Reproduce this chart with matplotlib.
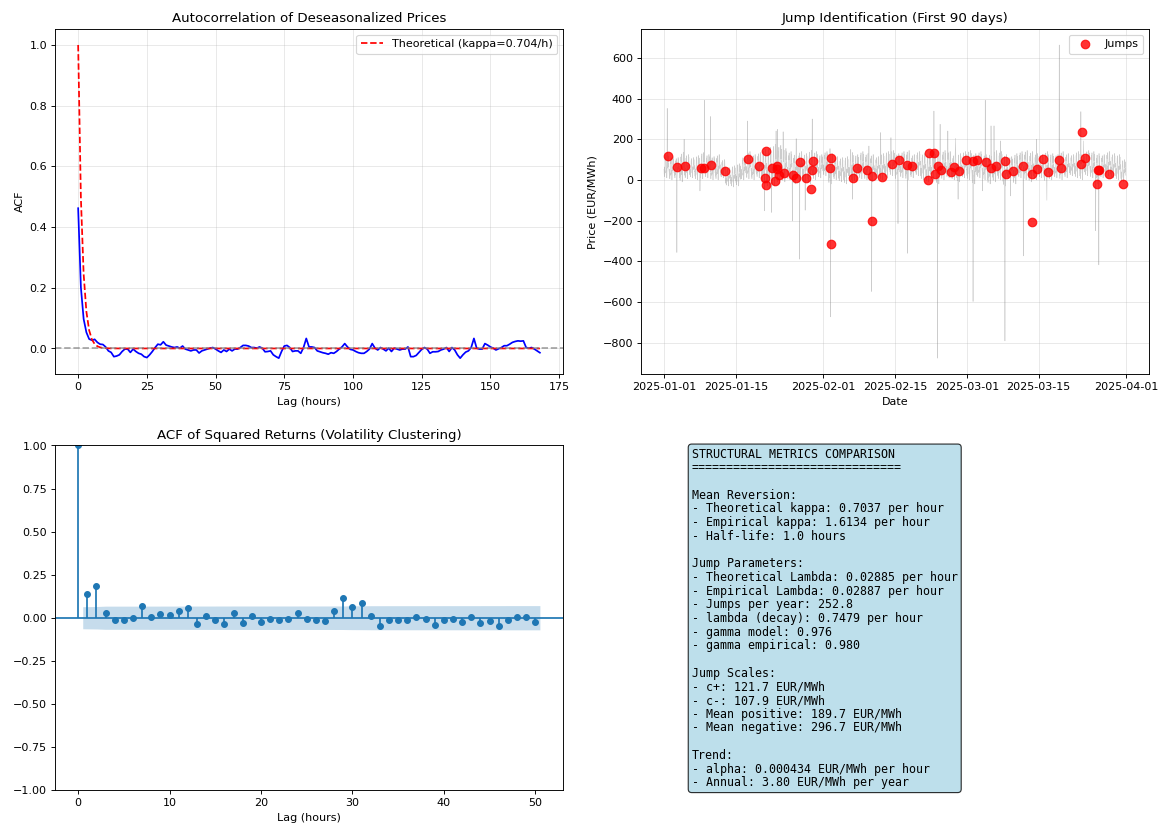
import numpy as np
import pandas as pd
import matplotlib
matplotlib.use("Agg")
import matplotlib.pyplot as plt

plt.rcParams["font.size"] = 9.7

# ---------------- Panel 1: ACF of deseasonalized prices ----------------
kappa_theoretical = 0.7037
acf_lags = np.arange(169)
acf_empirical = [
    0.462, 0.201, 0.097, 0.053, 0.031, 0.027, 0.030, 0.020, 0.014, 0.013,
    0.005, -0.008, -0.013, -0.027, -0.025, -0.021, -0.010, -0.002, -0.002, -0.013,
    -0.002, -0.010, -0.016, -0.019, -0.027, -0.030, -0.021, -0.010, 0.003, 0.014,
    0.012, 0.022, 0.011, 0.008, 0.005, 0.003, 0.005, 0.001, 0.008, -0.002,
    -0.005, -0.008, -0.005, -0.005, -0.015, -0.008, -0.005, -0.002, 0.001, 0.003,
    -0.002, -0.008, -0.013, -0.005, -0.010, -0.002, -0.008, -0.002, -0.002, 0.003,
    0.010, 0.010, 0.008, 0.003, 0.003, 0.001, 0.005, 0.001, -0.011, -0.010,
    -0.008, -0.021, -0.027, -0.032, -0.010, 0.008, 0.010, 0.003, -0.010, -0.008,
    -0.008, -0.016, 0.003, 0.033, 0.005, 0.005, 0.003, -0.008, -0.011, -0.014,
    -0.016, -0.019, -0.014, -0.016, -0.010, -0.002, 0.005, 0.016, 0.005, -0.003,
    -0.005, -0.010, -0.014, -0.016, -0.016, -0.010, -0.002, 0.016, 0.001, -0.005,
    0.003, -0.002, -0.008, 0.001, -0.010, 0.001, -0.002, -0.005, -0.002, -0.002,
    0.005, -0.027, -0.027, -0.023, -0.013, -0.003, 0.003, -0.002, -0.016, -0.011,
    -0.011, -0.010, -0.005, -0.002, 0.003, -0.010, 0.003, -0.005, -0.021, -0.032,
    -0.021, -0.012, -0.008, 0.003, 0.033, 0.001, -0.002, -0.002, 0.016, 0.011,
    0.005, 0.001, -0.005, -0.001, 0.003, 0.009, 0.009, 0.014, 0.020, 0.023,
    0.025, 0.024, 0.025, 0.003, 0.001, 0.003, -0.002, -0.008, -0.014,
]

# ---------------- Panel 2: hourly prices and detected jumps ----------------
start_date = "2025-01-01"
n_days = 90
# daily band of the hourly price (EUR/MWh)
daily_low = [
    10, 0, 5, -10, 5, 10, 0, 5, 10, 0,
    0, 10, -30, -35, -30, 0, 5, 0, 10, -20,
    -40, -30, -20, -10, 0, -20, 0, -10, -20, 0,
    10, 20, -20, 0, -10, -20, 0, -10, 5, 0,
    -10, 10, 0, 10, 20, 0, 10, 0, 10, 20,
    0, -10, 0, -20, 0, 10, 0, -10, 10, 0,
    -20, 10, 0, -20, -10, 0, -30, 0, -20, 10,
    0, -10, 0, 10, -10, 0, 10, 0, 10, 20,
    10, 0, 20, 10, -20, 10, 20, 10, 0, -10,
]
daily_high = [
    130, 115, 110, 135, 125, 110, 120, 135, 125, 115,
    125, 100, 60, 70, 80, 115, 140, 125, 135, 150,
    160, 175, 170, 155, 140, 130, 140, 130, 145, 140,
    125, 140, 130, 115, 110, 115, 135, 125, 140, 130,
    125, 115, 130, 140, 145, 130, 140, 145, 125, 140,
    130, 125, 140, 130, 145, 140, 125, 130, 140, 145,
    130, 140, 125, 130, 145, 140, 125, 115, 130, 140,
    145, 140, 130, 125, 140, 130, 125, 140, 130, 125,
    140, 130, 145, 140, 130, 125, 140, 130, 125, 100,
]
# typical intraday profile (0 = daily low, 1 = daily high)
hourly_profile = [0.35, 0.15, 0.45, 0.05, 0.30, 0.20, 0.60, 0.85, 0.70, 0.95,
                  0.50, 0.25, 0.40, 0.00, 0.30, 0.55, 0.40, 0.80, 1.00, 0.65,
                  0.90, 0.45, 0.60, 0.30]
# isolated price spikes: (hour index, price)
spike_hours = [15, 60, 94, 168, 189, 217, 390, 470, 503, 524, 530, 557, 600,
               618, 634, 660, 693, 776, 779, 873, 881, 958, 971, 1013, 1061,
               1094, 1138, 1262, 1279, 1291, 1327, 1363, 1375, 1445, 1489,
               1502, 1529, 1543, 1574, 1594, 1620, 1680, 1742, 1790, 1848,
               1949, 1961, 2018, 2033]
spike_values = [352, -357, 200, -54, 392, 312, 290, -152, -160, 241, 249, 237,
                -202, 203, -390, -149, 300, 154, -674, 150, -95, 167, -549,
                233, 208, -215, -361, 339, -877, 274, 241, 205, -95, -598, -54,
                392, 266, 266, 192, -792, -79, -374, 200, -100, 664, 336, 192,
                -250, -418]
# detected jumps: (hour index, price)
jump_hours = [17, 60, 96, 172, 189, 219, 284, 393, 445, 477, 470, 475, 505,
              518, 530, 527, 539, 559, 602, 619, 634, 664, 688, 693, 698, 778,
              783, 780, 883, 904, 947, 972, 973, 1019, 1066, 1101, 1136, 1159,
              1238, 1261, 1236, 1265, 1282, 1295, 1342, 1358, 1380, 1412, 1444,
              1462, 1507, 1531, 1551, 1596, 1601, 1630, 1680, 1720, 1722, 1745,
              1774, 1795, 1849, 1854, 1953, 1952, 1968, 2024, 2029, 2036, 2081,
              2148]
jump_values = [119, 64, 70, 57, 57, 74, 46, 103, 70, 141, 11, -25, 57, -7, 67,
               54, 25, 34, 25, 7, 87, 11, -46, 51, 93, 57, 108, -317, 11, 61,
               47, 21, -200, 16, 80, 98, 74, 70, 134, 132, 2, 28, 70, 51, 41,
               64, 44, 96, 93, 96, 87, 57, 67, 93, 28, 44, 70, 31, -209, 54,
               101, 41, 100, 57, 237, 77, 106, -18, 47, 51, 29, -21]

# ---------------- Panel 3: ACF of squared returns ----------------
sq_lags = np.arange(51)
sq_acf = [1.0, 0.140, 0.183, 0.025, -0.016, -0.012, -0.004, 0.066, 0.002, 0.019,
          0.017, 0.037, 0.054, -0.035, 0.010, -0.016, -0.037, 0.029, -0.031, 0.010,
          -0.025, -0.008, -0.014, -0.006, 0.029, -0.008, -0.014, -0.019, 0.037, 0.113,
          0.062, 0.083, 0.012, -0.047, -0.012, -0.014, -0.016, 0.004, -0.010, -0.043,
          -0.012, -0.006, -0.027, 0.004, -0.031, -0.021, -0.049, -0.012, 0.004, 0.006,
          -0.025]
n_obs = 940

# ---------------- Panel 4: metrics summary ----------------
summary_lines = [
    "STRUCTURAL METRICS COMPARISON",
    "==============================",
    "",
    "Mean Reversion:",
    "- Theoretical kappa: 0.7037 per hour",
    "- Empirical kappa: 1.6134 per hour",
    "- Half-life: 1.0 hours",
    "",
    "Jump Parameters:",
    "- Theoretical Lambda: 0.02885 per hour",
    "- Empirical Lambda: 0.02887 per hour",
    "- Jumps per year: 252.8",
    "- lambda (decay): 0.7479 per hour",
    "- gamma model: 0.976",
    "- gamma empirical: 0.980",
    "",
    "Jump Scales:",
    "- c+: 121.7 EUR/MWh",
    "- c-: 107.9 EUR/MWh",
    "- Mean positive: 189.7 EUR/MWh",
    "- Mean negative: 296.7 EUR/MWh",
    "",
    "Trend:",
    "- alpha: 0.000434 EUR/MWh per hour",
    "- Annual: 3.80 EUR/MWh per year",
]

# ---------------- build hourly price series ----------------
low = np.repeat(np.array(daily_low, float), 24)
high = np.repeat(np.array(daily_high, float), 24)
prof = np.tile(np.array(hourly_profile, float), n_days)
prices = low + prof * (high - low)
prices[np.array(spike_hours)] = spike_values
times = pd.date_range(start_date, periods=n_days * 24, freq="h")
jump_times = times[np.array(jump_hours)]

fig, axes = plt.subplots(2, 2, figsize=(14, 9.935), dpi=83.15)
fig.subplots_adjust(left=0.0473, right=0.9869, top=0.9644, bottom=0.0436,
                    wspace=0.1535, hspace=0.208)
ax1, ax2, ax3, ax4 = axes.ravel()

# Panel 1
ax1.plot(acf_lags, acf_empirical, color="blue", linewidth=1.5)
ax1.plot(acf_lags, np.exp(-kappa_theoretical * acf_lags), "r--", linewidth=1.5,
         label=f"Theoretical (kappa={kappa_theoretical:.3f}/h)")
ax1.axhline(0, color="gray", linestyle="--", alpha=0.7)
ax1.set_title("Autocorrelation of Deseasonalized Prices")
ax1.set_xlabel("Lag (hours)")
ax1.set_ylabel("ACF")
ax1.legend(loc="upper right")
ax1.grid(True, alpha=0.3)

# Panel 2
ax2.plot(times, prices, color="gray", linewidth=0.5, alpha=0.4)
ax2.scatter(jump_times, jump_values, color="red", s=55, alpha=0.8, label="Jumps",
            zorder=3)
ax2.set_title("Jump Identification (First 90 days)")
ax2.set_xlabel("Date")
ax2.set_ylabel("Price (EUR/MWh)")
ax2.legend(loc="upper right")
ax2.grid(True, alpha=0.3)

# Panel 3 (stem-style ACF with Bartlett confidence band)
sq = np.array(sq_acf)
ax3.vlines(sq_lags, 0, sq, colors="C0")
ax3.axhline(0, color="C0")
ax3.plot(sq_lags, sq, "o", color="C0", markersize=5)
varacf = np.ones(len(sq)) / n_obs
varacf[2:] *= 1 + 2 * np.cumsum(sq[1:-1] ** 2)
half = 1.96 * np.sqrt(varacf[1:])
band_x = sq_lags[1:].astype(float)
band_x[0] -= 0.5
band_x[-1] += 0.5
ax3.fill_between(band_x, -half, half, alpha=0.25, color="C0", linewidth=0)
ax3.set_ylim(-1, 1)
ax3.set_title("ACF of Squared Returns (Volatility Clustering)")
ax3.set_xlabel("Lag (hours)")

# Panel 4
ax4.axis("off")
ax4.text(0.1, 0.994, "\n".join(summary_lines), transform=ax4.transAxes,
         fontsize=10.05, va="top", family="monospace", linespacing=1.069,
         bbox=dict(boxstyle="round", facecolor="lightblue", alpha=0.8))

fig.savefig("out.png", dpi=83.15)
